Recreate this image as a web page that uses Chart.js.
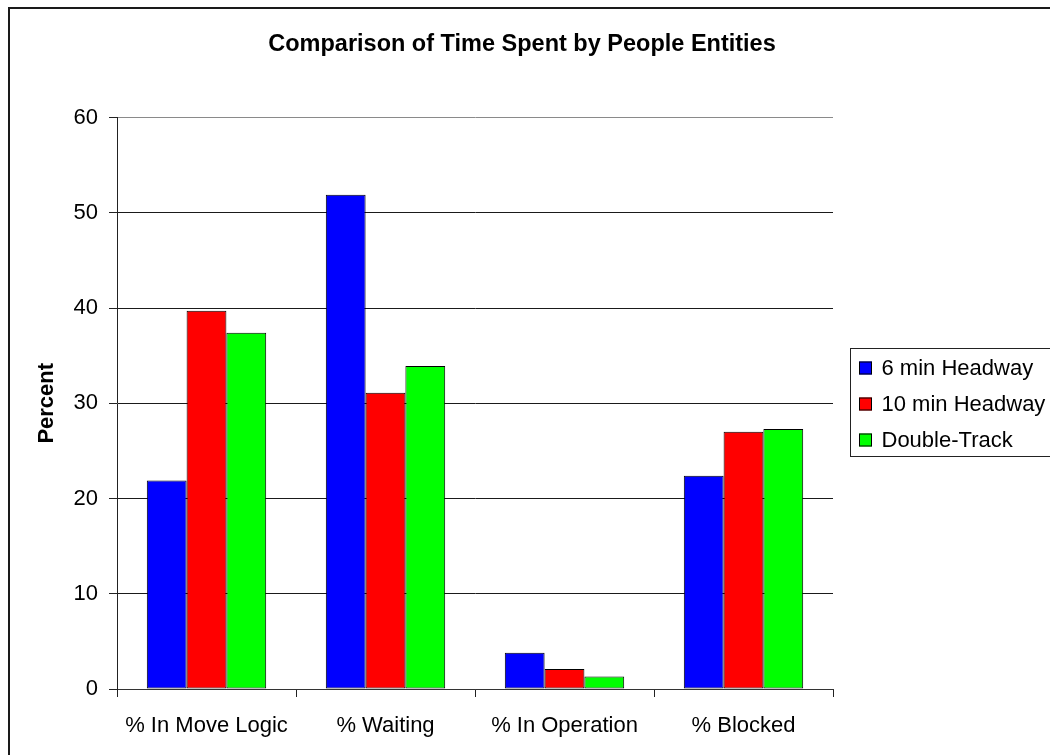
<!DOCTYPE html>
<html>
<head>
<meta charset="utf-8">
<title>Comparison of Time Spent by People Entities</title>
<script src="https://cdn.jsdelivr.net/npm/chart.js@4.4.1/dist/chart.umd.min.js"></script>
<style>
  html, body { margin: 0; padding: 0; background: #ffffff; }
  #wrap { width: 1050px; height: 755px; }
</style>
</head>
<body>
<div id="wrap"><canvas id="chart" width="1050" height="755"></canvas></div>
<script>
// Categories and series values (percent of time)
const categories = ['% In Move Logic', '% Waiting', '% In Operation', '% Blocked'];
const headway6 = [21.9, 51.9, 3.8, 22.4];
const headway10 = [39.7, 31.1, 2.1, 27.0];
const doubleTrack = [37.4, 33.9, 1.3, 27.3];
const seriesNames = ['6 min Headway', '10 min Headway', 'Double-Track'];
const yTicks = [0, 10, 20, 30, 40, 50, 60];
const chartTitle = 'Comparison of Time Spent by People Entities';

const FONT = '"Liberation Sans", Arial, Helvetica, sans-serif';

// White background, outer frame and the title centred on the whole chart object
const framePlugin = {
  id: 'frame',
  beforeDraw(chart) {
    const ctx = chart.ctx;
    ctx.save();
    ctx.fillStyle = '#ffffff';
    ctx.fillRect(0, 0, chart.width, chart.height);
    ctx.restore();
  },
  afterDraw(chart) {
    const ctx = chart.ctx;
    ctx.save();
    ctx.strokeStyle = '#1a1a1a';
    ctx.lineWidth = 2;
    ctx.strokeRect(9, 8, chart.width + 20, chart.height + 20);
    ctx.fillStyle = '#000';
    ctx.font = 'bold 23.5px ' + FONT;
    ctx.textAlign = 'center';
    ctx.textBaseline = 'alphabetic';
    ctx.fillText(chartTitle, 522, 51);
    ctx.restore();
  }
};

// Boxed legend to the right of the plot, built from the datasets
const boxLegend = {
  id: 'boxLegend',
  afterDraw(chart) {
    const ctx = chart.ctx;
    const x0 = 850.5, y0 = 348.5, w = 240, h = 108;
    ctx.save();
    ctx.strokeStyle = '#222';
    ctx.lineWidth = 1;
    ctx.strokeRect(x0, y0, w, h);
    ctx.font = '22px ' + FONT;
    ctx.textBaseline = 'middle';
    ctx.textAlign = 'left';
    chart.data.datasets.forEach((ds, i) => {
      const cy = 368 + i * 36;
      ctx.fillStyle = ds.backgroundColor;
      ctx.fillRect(859, cy - 6.5, 13, 13);
      ctx.strokeStyle = '#000';
      ctx.strokeRect(859.5, cy - 6, 12, 12);
      ctx.fillStyle = '#000';
      ctx.fillText(ds.label, 881.5, cy + 1);
    });
    ctx.restore();
  }
};

new Chart(document.getElementById('chart'), {
  type: 'bar',
  data: {
    labels: categories,
    datasets: [
      { label: seriesNames[0], data: headway6, backgroundColor: '#0000ff' },
      { label: seriesNames[1], data: headway10, backgroundColor: '#ff0000' },
      { label: seriesNames[2], data: doubleTrack, backgroundColor: '#00ff00' }
    ]
  },
  options: {
    responsive: false,
    animation: false,
    devicePixelRatio: 1,
    layout: { padding: { left: 0, right: 217, top: 117.5, bottom: 0 } },
    datasets: {
      bar: {
        categoryPercentage: 0.667,
        barPercentage: 1.0,
        borderColor: '#000000',
        borderWidth: 1,
        borderSkipped: false
      }
    },
    plugins: {
      legend: { display: false },
      tooltip: { enabled: false },
      title: { display: false }
    },
    scales: {
      x: {
        offset: true,
        grid: {
          offset: true,
          drawOnChartArea: true,
          drawTicks: true,
          tickLength: 8,
          color: (c) => (c.index === categories.length ? '#8a8a8a' : 'rgba(0,0,0,0)'),
          tickColor: '#222'
        },
        border: { display: true, color: '#333', width: 1 },
        ticks: {
          color: '#000',
          font: { family: FONT, size: 22 },
          padding: 16,
          maxRotation: 0,
          autoSkip: false
        },
        afterFit(scale) { scale.height = 66; }
      },
      y: {
        min: 0,
        max: 60,
        afterBuildTicks(scale) { scale.ticks = yTicks.map(v => ({ value: v })); },
        grid: {
          drawTicks: true,
          tickLength: 8,
          color: (c) => (c.tick && c.tick.value === 60 ? '#8a8a8a' : '#1a1a1a'),
          tickColor: '#222'
        },
        border: { display: true, color: '#222', width: 1 },
        ticks: {
          color: '#000',
          font: { family: FONT, size: 22 },
          padding: 11
        },
        title: {
          display: true,
          text: 'Percent',
          color: '#000',
          font: { family: FONT, size: 22, weight: 'bold' },
          padding: { top: 34, bottom: 0 }
        },
        afterFit(scale) { scale.width = 117; }
      }
    }
  },
  plugins: [framePlugin, boxLegend]
});
</script>
</body>
</html>
